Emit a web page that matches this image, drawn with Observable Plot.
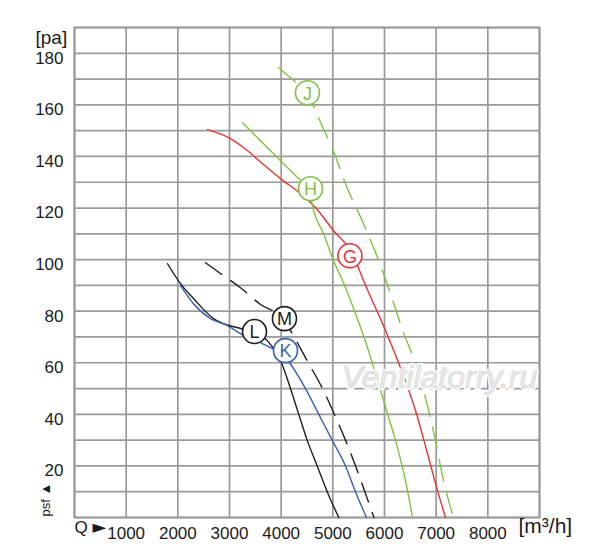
<!DOCTYPE html>
<html><head><meta charset="utf-8">
<script src="https://cdn.jsdelivr.net/npm/d3@7"></script>
<script src="https://cdn.jsdelivr.net/npm/@observablehq/plot@0.6"></script>
<style>body{margin:0;background:#fff;font-family:"Liberation Sans",Arial,sans-serif}</style>
</head><body><div id="chart"></div>
<script>
// Airflow Q [m³/h] and static pressure psf [pa] per curve
const gQ = [2574,3019,3348,3638,3987,4374,4664,5013,5380,5593,6019,6309,6600,6832,7025,7180];
const gP = [150.4,146.9,142.2,137.2,131.4,125.6,120.2,111.2,102.3,91.9,72.5,58.1,41.5,24.8,10.5,0];
const hQ = [3251,3793,4316,4529,4626,4819,5013,5187,5438,5671,5864,6058,6251,6406,6542];
const hP = [153.1,142.2,131.8,127.5,119.0,110.1,99.6,91.9,79.1,65.9,53.1,40.3,27.1,14.3,0];
const jQ = [3948,4316,4509,4722,4993,5284,5593,5961,6116,6367,6600,6832,6987,7142,7335];
const jP = [174.4,168.2,164.7,155.0,143.0,127.5,114.0,95.7,86.8,71.7,59.7,43.4,29.8,14.3,0];
const lQ = [1800,2051,2303,2690,3213,3484,3735,4006,4180,4341,4503,4697,4891,5115];
const lP = [98.4,90.7,84.9,77.1,73.3,72.1,68.5,60,50,40,30,20,10,0];
const kQ = [2051,2303,2632,2961,3213,3600,4161,4471,4729,4987,5245,5438,5651];
const kP = [89.9,82.9,77.1,74.4,71.3,67.8,60,50,40,30,20,10,0];
const mQ = [2535,2826,3213,3600,4045,4180,4525,4800,5030,5245,5440,5620,5795];
const mP = [98.8,94.6,89.1,82.6,77.1,72.5,60,50,40,30,20,10,0];

// Curve labels
const labelNames = ["J","H","G","L","M","K"];
const labelQ = [4509,4568,5330,3484,4064,4084];
const labelP = [164.7,127.5,101.5,72.1,77.1,64.7];

const xTicks = [1000,2000,3000,4000,5000,6000,7000,8000];
const yTicks = [20,40,60,80,100,120,140,160,180];
const watermark = [{text:"Ventilatorry.ru", q:7064, p:54}];

const RED="#ec3232", GREEN="#80c241", BLUE="#3b5fb3", BLACK="#1e1e1e";
const colors = {J:GREEN,H:GREEN,G:RED,L:BLACK,M:BLACK,K:BLUE};

const rows = (Q,P)=>Q.map((q,i)=>({q,p:P[i]}));
const labels = labelNames.map((n,i)=>({n,q:labelQ[i],p:labelP[i]}));

const lineOpts = {x:"q",y:"p",curve:"monotone-x",strokeWidth:1.4};
const TXT="#1a1a1a";

const chart = Plot.plot({
  width:600,height:558,
  marginLeft:74,marginRight:61,marginTop:27,marginBottom:41,
  style:{fontFamily:"'Liberation Sans',Arial,sans-serif",background:"#fff"},
  x:{domain:[0,9000],axis:null},
  y:{domain:[0,190],axis:null},
  marks:[
    Plot.gridX(d3.range(0,9001,1000),{stroke:"#9a9a9a",strokeOpacity:1,strokeWidth:1.7}),
    Plot.gridY(d3.range(0,191,10),{stroke:"#9a9a9a",strokeOpacity:1,strokeWidth:1.7}),
    Plot.frame({stroke:"#9a9a9a",strokeWidth:2}),
    Plot.axisX(xTicks,{tickSize:0,tickPadding:0,dy:9,fontSize:17,fill:TXT,tickFormat:d=>String(d),label:null}),
    Plot.axisY(yTicks,{tickSize:0,tickPadding:11,dy:5,fontSize:17,fill:TXT,tickFormat:d=>String(d),label:null}),
    Plot.text(["[pa]"],{frameAnchor:"top-left",dx:-39,dy:3,textAnchor:"start",fontSize:19,fill:TXT}),
    Plot.text(["Q"],{frameAnchor:"bottom-left",dx:0,dy:15,textAnchor:"start",fontSize:17,fill:TXT}),
    Plot.text(["►"],{frameAnchor:"bottom-left",dx:18,dy:15,textAnchor:"start",fontSize:18,fontFamily:"DejaVu Sans",fill:TXT}),
    Plot.text(["[m³/h]"],{frameAnchor:"bottom-right",dx:-21,dy:15,textAnchor:"start",fontSize:21,fill:TXT}),
    Plot.text(["psf ▲"],{frameAnchor:"bottom-left",dx:-25,dy:-1,rotate:-90,fontSize:13,fill:TXT}),
    Plot.line(rows(gQ,gP),{...lineOpts,stroke:RED}),
    Plot.line(rows(hQ,hP),{...lineOpts,stroke:GREEN}),
    Plot.line(rows(jQ,jP),{...lineOpts,stroke:GREEN,strokeDasharray:"22,11"}),
    Plot.line(rows(lQ,lP),{...lineOpts,stroke:BLACK}),
    Plot.line(rows(kQ,kP),{...lineOpts,stroke:BLUE}),
    Plot.line(rows(mQ,mP),{...lineOpts,stroke:BLACK,strokeDasharray:"20,11"}),
    Plot.text(watermark,{x:"q",y:"p",text:"text",fontSize:32,fontStyle:"italic",fill:"white",stroke:"white",strokeWidth:4}),
    Plot.text(watermark,{x:"q",y:"p",text:"text",fontSize:32,fontStyle:"italic",fill:"#e6e6e6",stroke:"#c4c4c4",strokeWidth:0.7}),
    Plot.dot(labels,{x:"q",y:"p",r:12,fill:"white",stroke:d=>colors[d.n],strokeWidth:1.6}),
    Plot.text(labels,{x:"q",y:"p",text:"n",fill:d=>colors[d.n],fontSize:18,dy:1})
  ]
});
document.getElementById("chart").appendChild(chart);
</script>
</body></html>
